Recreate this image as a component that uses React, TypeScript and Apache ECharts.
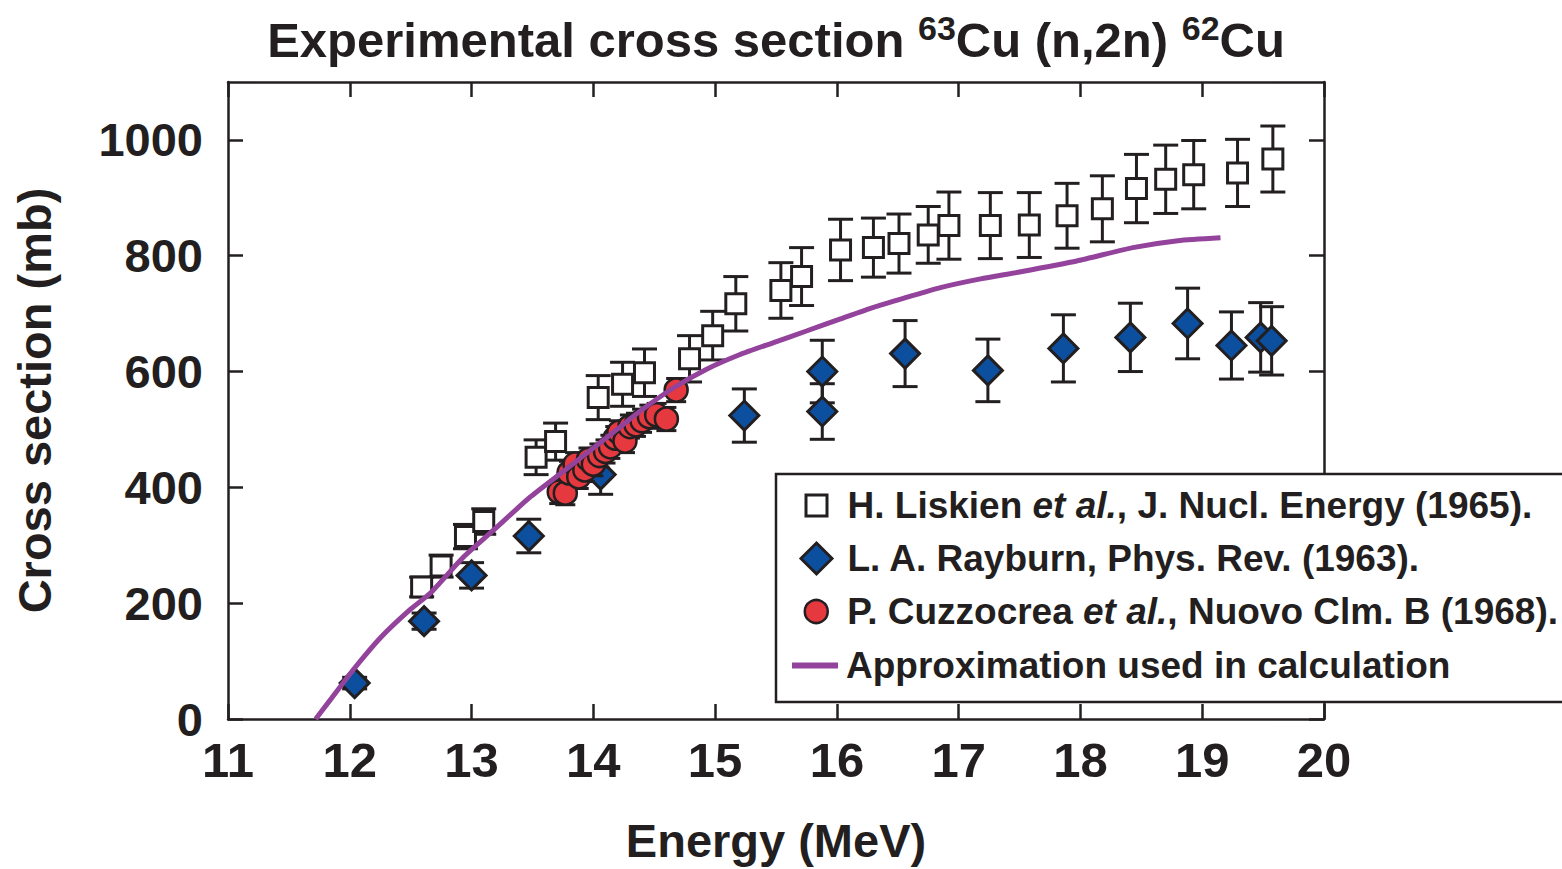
import React, { useEffect, useRef } from "react";
import * as echarts from "echarts";

// ---- data ----
const xTickValues = [11, 12, 13, 14, 15, 16, 17, 18, 19, 20];
const yTickValues = [0, 200, 400, 600, 800, 1000];

const liskienE = [12.59, 12.75, 12.95, 13.1, 13.53, 13.69, 14.04, 14.24, 14.42, 14.79, 14.98, 15.17, 15.54, 15.71, 16.03, 16.3, 16.51, 16.75, 16.92, 17.26, 17.58, 17.89, 18.18, 18.46, 18.7, 18.93, 19.29, 19.58];
const liskienS = [228, 264, 315, 341, 452, 479, 555, 578, 598, 622, 662, 717, 740, 764, 810, 814, 821, 836, 852, 852, 853, 869, 881, 916, 932, 940, 943, 967];
const liskienErr = [17, 19, 21, 22, 30, 32, 38, 38, 41, 40, 42, 47, 48, 50, 53, 51, 51, 49, 58, 57, 56, 56, 57, 59, 59, 59, 58, 57];

const rayburnE = [12.04, 12.61, 13.0, 13.47, 14.06, 15.24, 15.88, 15.88, 16.56, 17.24, 17.86, 18.41, 18.88, 19.24, 19.48, 19.57];
const rayburnS = [62, 169, 248, 316, 422, 524, 600, 531, 631, 602, 640, 659, 683, 645, 659, 653];
const rayburnErr = [10, 14, 22, 29, 34, 46, 54, 48, 57, 54, 58, 59, 61, 58, 60, 59];

const cuzzE = [13.72, 13.77, 13.8, 13.85, 13.88, 13.93, 13.96, 14.0, 14.05, 14.1, 14.14, 14.18, 14.21, 14.26, 14.3, 14.35, 14.4, 14.46, 14.52, 14.6, 14.68];
const cuzzS = [392, 390, 425, 440, 418, 430, 448, 440, 455, 462, 470, 485, 495, 480, 505, 508, 515, 522, 525, 518, 568];
const cuzzErr = [20, 20, 20, 20, 20, 20, 20, 20, 20, 20, 20, 20, 20, 20, 20, 20, 20, 20, 20, 20, 20];

const curveE = [11.72, 11.84, 12.04, 12.25, 12.49, 12.66, 12.93, 13.18, 13.48, 13.75, 14.0, 14.2, 14.38, 14.66, 14.93, 15.2, 15.48, 15.75, 16.03, 16.3, 16.57, 16.85, 17.18, 17.5, 17.97, 18.43, 18.8, 19.15];
const curveS = [0, 33, 88, 140, 188, 217, 279, 326, 383, 427, 468, 501, 531, 572, 604, 629, 650, 670, 691, 711, 728, 745, 760, 772, 791, 814, 826, 831];

const legendNames = ["Liskien", "Rayburn", "Cuzzocrea", "Approximation"];
const legendLabels = [
  "H. Liskien {i|et al.}, J. Nucl. Energy (1965).",
  "L. A. Rayburn, Phys. Rev. (1963).",
  "P. Cuzzocrea {i|et al.}, Nuovo Clm. B (1968).",
  "Approximation used in calculation",
];

const FONT = "'Liberation Sans', Arial, Helvetica, sans-serif";
const INK = "#231f20";
const BLUE = "#0d4f9f";
const RED = "#e5383f";
const PURPLE = "#93439b";

const zip3 = (a: number[], b: number[], c: number[]) => a.map((v, i) => [v, b[i], c[i]]);
const zip2 = (a: number[], b: number[]) => a.map((v, i) => [v, b[i]]);

function errorBarSeries(name: string, data: number[][], z: number, hw: number) {
  return {
    type: "custom",
    name,
    z,
    clip: false,
    encode: { x: 0, y: 1 },
    data,
    renderItem: (params: any, api: any) => {
      const x = api.value(0);
      const y = api.value(1);
      const e = api.value(2);
      const top = api.coord([x, y + e]);
      const bot = api.coord([x, y - e]);
      const st = { stroke: INK, lineWidth: 3 };
      return {
        type: "group",
        children: [
          { type: "line", shape: { x1: top[0], y1: top[1], x2: bot[0], y2: bot[1] }, style: st },
          { type: "line", shape: { x1: top[0] - hw, y1: top[1], x2: top[0] + hw, y2: top[1] }, style: st },
          { type: "line", shape: { x1: bot[0] - hw, y1: bot[1], x2: bot[0] + hw, y2: bot[1] }, style: st },
        ],
      };
    },
  };
}

export default function App() {
  const ref = useRef<HTMLDivElement>(null);
  useEffect(() => {
    if (!ref.current) return;
    const chart = echarts.init(ref.current, null, { renderer: "svg" });

    const legendCommon = {
      orient: "horizontal",
      padding: 0,
      selectedMode: false,
      z: 20,
      itemWidth: 52,
      textStyle: {
        fontFamily: FONT,
        fontWeight: "bold",
        fontSize: 37,
        color: INK,
        rich: {
          i: { fontFamily: FONT, fontWeight: "bold", fontStyle: "italic", fontSize: 37, color: INK },
        },
      },
      formatter: (name: string) => legendLabels[legendNames.indexOf(name)],
    };
    const centers = [506, 559, 612, 666];
    const iconCx = 815;

    const axisLineStyle = { onZero: false, lineStyle: { color: INK, width: 2.5 } };
    const tickStyle = { inside: true, length: 15, lineStyle: { color: INK, width: 2.5 } };

    const option: any = {
      animation: false,
      backgroundColor: "#ffffff",
      title: {
        text: "Experimental cross section {sup|63}Cu (n,2n) {sup|62}Cu",
        left: 776,
        top: 11,
        textAlign: "center",
        padding: 0,
        textStyle: {
          fontFamily: FONT,
          fontWeight: "bold",
          fontSize: 49,
          lineHeight: 58,
          color: INK,
          rich: {
            sup: { fontFamily: FONT, fontWeight: "bold", fontSize: 34, lineHeight: 34, verticalAlign: "top", color: INK },
          },
        },
      },
      grid: { left: 228, right: 238, top: 82, bottom: 150, containLabel: false, outerBoundsMode: "none" },
      xAxis: [
        {
          type: "value",
          min: 11,
          max: 20,
          interval: 1,
          position: "bottom",
          name: "Energy (MeV)",
          nameLocation: "middle",
          nameGap: 98,
          nameTextStyle: { fontFamily: FONT, fontWeight: "bold", fontSize: 47, color: INK },
          axisLine: axisLineStyle,
          axisTick: { ...tickStyle, customValues: xTickValues },
          axisLabel: {
            fontFamily: FONT,
            fontWeight: "bold",
            fontSize: 49,
            color: INK,
            margin: 16,
            customValues: xTickValues,
            formatter: (v: number) => String(v),
          },
          splitLine: { show: false },
        },
        {
          type: "value",
          min: 11,
          max: 20,
          interval: 1,
          position: "top",
          axisLine: axisLineStyle,
          axisTick: { ...tickStyle, customValues: xTickValues },
          axisLabel: { show: false },
          splitLine: { show: false },
        },
      ],
      yAxis: [
        {
          type: "value",
          min: 0,
          max: 1100,
          interval: 200,
          position: "left",
          name: "Cross section (mb)",
          nameLocation: "middle",
          nameGap: 170,
          nameTextStyle: { fontFamily: FONT, fontWeight: "bold", fontSize: 47, color: INK },
          axisLine: { show: true, ...axisLineStyle },
          axisTick: { show: true, ...tickStyle, customValues: yTickValues },
          axisLabel: {
            fontFamily: FONT,
            fontWeight: "bold",
            fontSize: 47,
            color: INK,
            margin: 25,
            customValues: yTickValues,
            formatter: (v: number) => String(v),
          },
          splitLine: { show: false },
        },
        {
          type: "value",
          min: 0,
          max: 1100,
          interval: 200,
          position: "right",
          axisLine: { show: true, ...axisLineStyle },
          axisTick: { show: true, ...tickStyle, customValues: yTickValues },
          axisLabel: { show: false },
          splitLine: { show: false },
        },
      ],
      legend: [
        {
          ...legendCommon,
          data: [{ name: "Liskien", icon: "path://M0,0L10,0L10,10L0,10Z" }],
          left: iconCx - 10.5,
          top: centers[0] - 19,
          itemHeight: 21,
          itemStyle: { borderWidth: 3 },
        },
        {
          ...legendCommon,
          data: [{ name: "Rayburn", icon: "path://M5,0L10,5L5,10L0,5Z" }],
          left: iconCx - 15.5,
          top: centers[1] - 19,
          itemHeight: 31,
          itemStyle: { borderWidth: 3 },
        },
        {
          ...legendCommon,
          data: [{ name: "Cuzzocrea", icon: "circle" }],
          left: iconCx - 11.5,
          top: centers[2] - 19,
          itemHeight: 23,
          itemStyle: { borderWidth: 2.5 },
        },
        {
          ...legendCommon,
          data: [{ name: "Approximation", icon: "path://M0,0L46,0L46,6L0,6Z" }],
          left: iconCx - 23,
          top: centers[3] - 19,
          itemHeight: 6,
          itemStyle: { color: PURPLE, borderWidth: 0 },
        },
      ],
      graphic: {
        elements: [
          {
            type: "rect",
            z: 10,
            shape: { x: 776, y: 474, width: 900, height: 228 },
            style: { fill: "#ffffff", stroke: INK, lineWidth: 2.5 },
          },
        ],
      },
      series: [
        errorBarSeries("errLiskien", zip3(liskienE, liskienS, liskienErr), 2, 12.5),
        {
          type: "scatter",
          name: "Liskien",
          z: 3,
          symbol: "rect",
          symbolSize: 20,
          data: zip2(liskienE, liskienS),
          itemStyle: { color: "#ffffff", borderColor: INK, borderWidth: 3, opacity: 1 },
        },
        errorBarSeries("errRayburn", zip3(rayburnE, rayburnS, rayburnErr), 4, 12.5),
        {
          type: "scatter",
          name: "Rayburn",
          z: 5,
          symbol: "diamond",
          symbolSize: 29,
          data: zip2(rayburnE, rayburnS),
          itemStyle: { color: BLUE, borderColor: INK, borderWidth: 3, opacity: 1 },
        },
        errorBarSeries("errCuzz", zip3(cuzzE, cuzzS, cuzzErr), 6, 10),
        {
          type: "scatter",
          name: "Cuzzocrea",
          z: 7,
          symbol: "circle",
          symbolSize: 23,
          data: zip2(cuzzE, cuzzS),
          itemStyle: { color: RED, borderColor: INK, borderWidth: 2.5, opacity: 1 },
        },
        {
          type: "line",
          name: "Approximation",
          z: 8,
          smooth: 0.2,
          showSymbol: false,
          symbol: "none",
          data: zip2(curveE, curveS),
          lineStyle: { color: PURPLE, width: 5 },
          itemStyle: { color: PURPLE },
        },
      ],
    };

    chart.setOption(option);
    return () => chart.dispose();
  }, []);

  return (
    <div
      ref={ref}
      style={{ position: "fixed", left: 0, top: 0, width: 1562, height: 869, background: "#fff" }}
    />
  );
}
